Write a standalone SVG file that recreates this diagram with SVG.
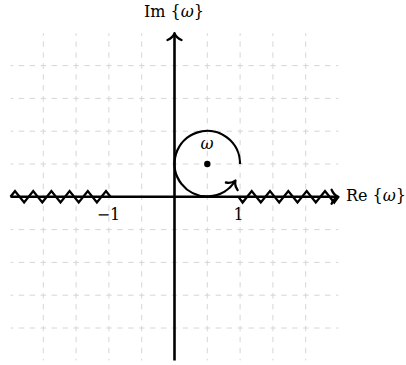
<svg xmlns="http://www.w3.org/2000/svg" width="406" height="365" viewBox="0 0 406 365">
  <style>
    .grid { stroke: #d6d6d6; stroke-width: 1; fill: none; stroke-dasharray: 5.47 5.47; stroke-dashoffset: 2.73; }
    .axis { stroke: #000; stroke-width: 2.6; fill: none; }
    .zig { stroke: #000; stroke-width: 2.3; fill: none; stroke-linejoin: miter; }
    .arc { stroke: #000; stroke-width: 2.3; fill: none; }
    .lbl { font-family: "DejaVu Serif", "Liberation Serif", serif; font-size: 16px; fill: #000; }
    .it { font-style: italic; }
  </style>
  <defs>
    <marker id="to" markerUnits="userSpaceOnUse" markerWidth="20" markerHeight="20" viewBox="-10 -10 20 20" refX="-1" refY="0" orient="auto" overflow="visible">
      <path d="M-6.8,-7 C-5.2,-3 -2.3,-0.8 0,0 C-2.3,0.8 -5.2,3 -6.8,7" fill="none" stroke="#000" stroke-width="2.3" stroke-linecap="round" stroke-linejoin="round"/>
    </marker>
  </defs>

  <g id="grid">
    <path class="grid" d="M10.5,65.6H338.4 M10.5,98.4H338.4 M10.5,131.2H338.4 M10.5,164H338.4 M10.5,229.6H338.4 M10.5,262.4H338.4 M10.5,295.2H338.4 M10.5,328H338.4"/>
    <path class="grid" d="M43.3,33.2V360.4 M76.1,33.2V360.4 M108.9,33.2V360.4 M141.7,33.2V360.4 M207.3,33.2V360.4 M240.1,33.2V360.4 M272.9,33.2V360.4 M305.7,33.2V360.4"/>
  </g>

  <g id="connectors">
    <path id="re-axis" class="axis" d="M10.5,196.8H337.4" marker-end="url(#to)"/>
    <path id="im-axis" class="axis" d="M174.5,360.4V34.2" marker-end="url(#to)"/>
    <path id="zig-left" class="zig" d="M10.5,196.8 L15,191.1 L24.1,202.5 L33.2,191.1 L42.3,202.5 L51.4,191.1 L60.5,202.5 L69.6,191.1 L78.7,202.5 L87.8,191.1 L96.9,202.5 L106,191.1 L110.5,196.8"/>
    <path id="zig-right" class="zig" d="M238.5,196.8 L242.6,202.5 L251.7,191.1 L260.8,202.5 L270,191.1 L279.2,202.5 L288.3,191.1 L297.5,202.5 L306.7,191.1 L315.8,202.5 L325,191.1 L334.2,202.5 L338.4,196.8"/>
    <path id="contour" class="arc" d="M240.1,164 A32.8,32.8 0 1 0 234.9,181.4" marker-end="url(#to)"/>
  </g>

  <g id="omega-point">
    <circle cx="207.3" cy="164" r="3.2" fill="#000"/>
    <text class="lbl it" x="207" y="148.5" text-anchor="middle">ω</text>
  </g>

  <g id="labels">
    <text id="im-label" class="lbl" x="174" y="17" text-anchor="middle">Im<tspan> {</tspan><tspan class="it">ω</tspan>}</text>
    <text id="re-label" class="lbl" x="346" y="201">Re<tspan> {</tspan><tspan class="it">ω</tspan>}</text>
    <text id="tick-m1" class="lbl" x="108.5" y="219.5" text-anchor="middle">−1</text>
    <text id="tick-1" class="lbl" x="238.5" y="219.5" text-anchor="middle">1</text>
  </g>
</svg>
